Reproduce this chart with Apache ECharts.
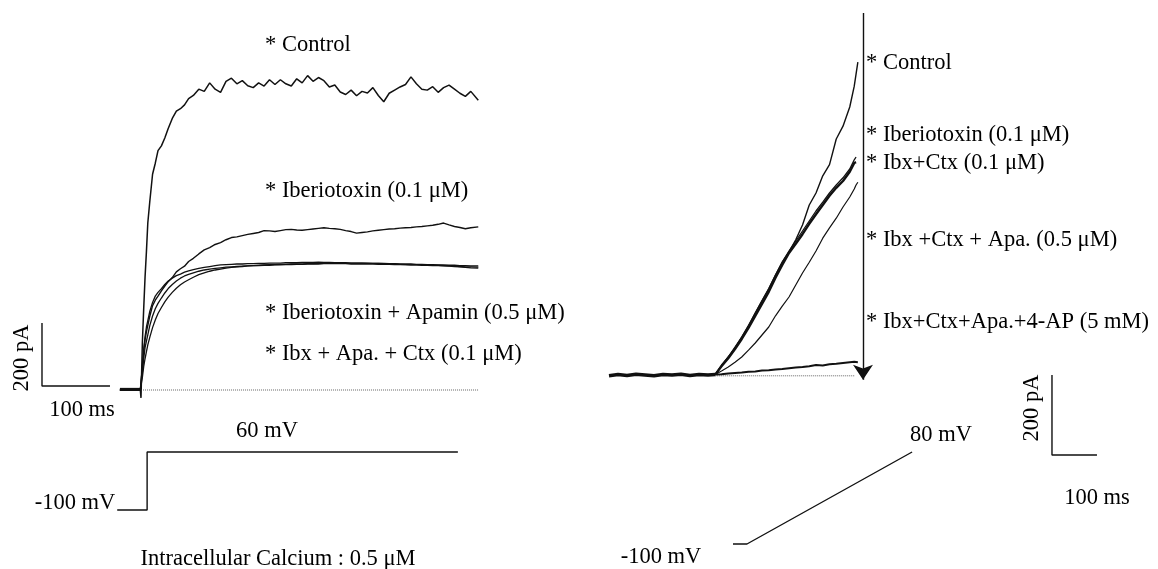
<!DOCTYPE html>
<html>
<head>
<meta charset="utf-8">
<title>K+ currents</title>
<script src="https://cdn.jsdelivr.net/npm/echarts@6/dist/echarts.min.js"></script>
<style>
  html, body { margin: 0; padding: 0; background: #fff; }
  #chart { width: 1158px; height: 569px; }
</style>
</head>
<body>
<div id="chart"></div>
<script>
// ---- left panel: step to 60 mV (time in ms, current in pA) ----
const leftTimes = [-31, -1, 0, 2, 4, 6, 8, 10, 13, 17, 21, 25, 30, 35, 40, 46, 52, 58, 64, 70, 77, 85, 93, 101, 109, 117, 125, 133, 141, 149, 157, 165, 173, 181, 189, 197, 205, 213, 221, 229, 237, 245, 253, 261, 269, 277, 285, 293, 301, 309, 317, 325, 333, 341, 349, 357, 365, 373, 381, 389, 397, 405, 413, 421, 429, 437, 445, 453, 461, 469, 477, 485, 496]
const controlLeft = [0, 0, -25, 150, 260, 360, 440, 530, 600, 685, 720, 760, 775, 800, 830, 862, 885, 893, 905, 925, 935, 955, 948, 975, 955, 945, 980, 990, 972, 982, 966, 960, 975, 965, 985, 970, 985, 972, 965, 988, 975, 998, 980, 992, 982, 962, 968, 946, 938, 952, 934, 948, 943, 960, 935, 915, 942, 952, 962, 970, 994, 972, 955, 952, 963, 945, 960, 968, 955, 942, 932, 948, 920]
const ibxLeft = [0, 0, 0, 70, 125, 160, 185, 205, 235, 268, 285, 298, 315, 330, 344, 357, 375, 385, 393, 408, 418, 432, 445, 452, 462, 468, 477, 484, 486, 490, 494, 497, 500, 506, 505, 503, 506, 509, 510, 508, 507, 509, 511, 513, 515, 513, 512, 510, 506, 503, 498, 500, 502, 505, 507, 509, 511, 512, 514, 515, 516, 518, 519, 521, 523, 526, 530, 524, 519, 516, 512, 515, 518]
const ibxApaLeft = [0, 0, 0, 75, 130, 170, 200, 220, 250, 278, 298, 310, 322, 335, 346, 355, 363, 368, 374, 378, 382, 386, 389, 392, 395, 397, 398, 399, 400, 400, 401, 401, 402, 402, 403, 403, 403, 404, 404, 404, 405, 405, 405, 406, 405, 405, 404, 404, 404, 403, 403, 403, 403, 402, 402, 402, 401, 401, 400, 400, 400, 399, 399, 398, 398, 397, 397, 396, 396, 395, 395, 394, 394]
const ibxApaCtxLeft = [0, 0, 0, 55, 100, 135, 155, 175, 205, 235, 258, 275, 292, 308, 322, 335, 346, 355, 362, 367, 372, 377, 381, 384, 386, 388, 390, 391, 392, 393, 394, 395, 395, 396, 396, 397, 397, 398, 398, 399, 399, 400, 400, 400, 401, 401, 401, 401, 401, 400, 400, 400, 400, 400, 399, 399, 399, 398, 398, 398, 397, 397, 397, 397, 396, 396, 395, 394, 393, 392, 391, 391, 390]
const thirdLeft = [0, 0, 0, 40, 75, 100, 122, 143, 168, 198, 222, 243, 262, 280, 295, 310, 323, 334, 343, 350, 358, 366, 372, 377, 381, 384, 387, 389, 391, 392, 394, 395, 396, 397, 398, 398, 399, 399, 400, 400, 400, 401, 401, 402, 402, 402, 403, 403, 403, 403, 403, 403, 402, 402, 402, 401, 401, 400, 399, 398, 397, 397, 396, 396, 395, 395, 394, 393, 392, 391, 389, 388, 387]
const leftBaseT = [3, 496]
// voltage protocol, left (ms, mV)
const stepT = [-35, 9, 9, 466]
const stepV = [-100, -100, 60, 60]

// ---- right panel: ramp to 80 mV ----
const rightBaseT = [0, 20, 40, 60, 80, 100, 120, 140, 160, 180, 200, 220, 236]
const rightBaseI = [-2, 1, -1, 2, 0, -2, 1, 0, 2, -1, 1, 0, 1]
const rightTimes = [236, 250, 265, 280, 295, 310, 325, 340, 355, 370, 385, 400, 415, 430, 445, 460, 475, 490, 505, 520, 535, 545, 549, 553]
const controlRight = [1, 22, 45, 67, 95, 122, 155, 185, 215, 250, 282, 308, 338, 375, 425, 455, 498, 526, 590, 622, 670, 722, 752, 782]
const ibxRight = [1, 25, 45, 70, 95, 124, 155, 186, 216, 250, 282, 310, 335, 360, 385, 410, 432, 455, 475, 493, 515, 538, 545, null]
const ibxCtxRight = [1, 22, 42, 65, 90, 118, 148, 178, 208, 243, 275, 305, 328, 352, 378, 402, 425, 448, 468, 485, 508, 530, 532, null]
const ibxCtxApaRight = [1, 10, 20, 32, 45, 62, 80, 100, 120, 148, 172, 195, 225, 255, 282, 310, 342, 368, 392, 420, 445, 465, 475, 482]
const fourApRight = [1, 2, 4, 5, 6, 8, 9, 11, 12, 14, 15, 17, 19, 20, 22, 25, 24, 27, 28, 30, 32, 33, 32, 32]
const rightDotT = [236, 547]
const rampT = [0, 31, 398]
const rampV = [-100, -100, 80]

// scale bars
const barMs = 100
const barPa = 200

const pairs = (xs, ys) => xs.map((x, i) => [x, ys[i]])
const black = '#111'
const serif = '22.5px "Liberation Serif", "DejaVu Serif", serif'

function trace (name, xi, xs, ys, width) {
  return {
    name: name,
    type: 'line',
    xAxisIndex: xi,
    yAxisIndex: xi,
    data: pairs(xs, ys),
    showSymbol: false,
    symbol: 'none',
    clip: false,
    silent: true,
    connectNulls: false,
    lineStyle: { color: black, width: width || 1.3 }
  }
}

function label (text, x, y, opts) {
  return Object.assign({
    type: 'text',
    x: x,
    y: y,
    silent: true,
    style: {
      text: text,
      fill: '#000',
      font: serif,
      textAlign: (opts && opts.align) || 'left',
      textVerticalAlign: 'middle'
    }
  }, opts && opts.rot ? { rotation: opts.rot } : {})
}

const chart = echarts.init(document.getElementById('chart'))

const leftBarX = -145.6
const leftBarY = 12.7
const rightBarX = 984.4
const rightBarY = -200

chart.setOption({
  animation: false,
  backgroundColor: '#fff',
  grid: [
    { left: 5, top: 27.75, width: 476, height: 378 },
    { left: 5, top: 444.75, width: 476, height: 72.5 },
    { left: 600, top: 3, width: 558, height: 472 },
    { left: 733, top: 441.78, width: 200, height: 112.44 }
  ],
  xAxis: [
    { type: 'value', gridIndex: 0, min: -200, max: 500, show: false },
    { type: 'value', gridIndex: 1, min: -200, max: 500, show: false },
    { type: 'value', gridIndex: 2, min: -20, max: 1220, show: false },
    { type: 'value', gridIndex: 3, min: 0, max: 444.44, show: false }
  ],
  yAxis: [
    { type: 'value', gridIndex: 0, min: -50, max: 1150, show: false },
    { type: 'value', gridIndex: 1, min: -120, max: 80, show: false },
    { type: 'value', gridIndex: 2, min: -250, max: 930, show: false },
    { type: 'value', gridIndex: 3, min: -120, max: 100, show: false }
  ],
  series: [
    // left currents
    {
      name: 'baseline L',
      type: 'line',
      xAxisIndex: 0,
      yAxisIndex: 0,
      data: pairs(leftBaseT, [0, 0]),
      showSymbol: false,
      clip: false,
      lineStyle: { color: '#666', width: 1, type: 'dotted' }
    },
    trace('holding L', 0, [-31, 0], [2, 2], 3),
    trace('Control', 0, leftTimes, controlLeft, 1.5),
    trace('Iberiotoxin', 0, leftTimes, ibxLeft, 1.4),
    trace('Iberiotoxin + Apamin', 0, leftTimes, ibxApaLeft, 1.3),
    trace('Ibx + Apa. + Ctx', 0, leftTimes, ibxApaCtxLeft, 1.3),
    trace('third', 0, leftTimes, thirdLeft, 1.3),
    trace('bar L', 0, [leftBarX, leftBarX, leftBarX + barMs], [leftBarY + barPa, leftBarY, leftBarY], 1.4),
    // left voltage
    trace('step', 1, stepT, stepV, 1.4),
    // right currents
    {
      name: 'baseline R',
      type: 'line',
      xAxisIndex: 2,
      yAxisIndex: 2,
      data: pairs(rightDotT, [-2, -2]),
      showSymbol: false,
      clip: false,
      lineStyle: { color: '#666', width: 1, type: 'dotted' }
    },
    trace('holding R', 2, rightBaseT, rightBaseI, 3.5),
    trace('Control R', 2, rightTimes, controlRight, 1.4),
    trace('Iberiotoxin R', 2, rightTimes, ibxRight, 1.3),
    trace('Ibx+Ctx R', 2, rightTimes, ibxCtxRight, 2.4),
    trace('Ibx+Ctx+Apa R', 2, rightTimes, ibxCtxApaRight, 1.2),
    trace('4-AP R', 2, rightTimes, fourApRight, 2),
    trace('bar R', 2, [rightBarX, rightBarX, rightBarX + barMs], [rightBarY + barPa, rightBarY, rightBarY], 1.4),
    {
      name: 'arrow',
      type: 'lines',
      coordinateSystem: 'cartesian2d',
      xAxisIndex: 2,
      yAxisIndex: 2,
      symbol: ['none', 'arrow'],
      symbolSize: [11, 15],
      silent: true,
      lineStyle: { color: black, width: 1.4, opacity: 1 },
      data: [{ coords: [[564.4, 905], [564.4, -12]] }]
    },
    // right voltage
    trace('ramp', 3, rampT, rampV, 1.4)
  ],
  graphic: [
    label('* Control', 265, 45),
    label('* Iberiotoxin (0.1 \u03bcM)', 265, 191),
    label('* Iberiotoxin + Apamin (0.5 \u03bcM)', 265, 313),
    label('* Ibx + Apa. + Ctx (0.1 \u03bcM)', 265, 354),
    label('200 pA', 22, 358, { align: 'center', rot: Math.PI / 2 }),
    label('100 ms', 82, 410, { align: 'center' }),
    label('60 mV', 267, 431, { align: 'center' }),
    label('-100 mV', 75, 503, { align: 'center' }),
    label('Intracellular Calcium : 0.5 \u03bcM', 278, 559, { align: 'center' }),
    label('* Control', 866, 63),
    label('* Iberiotoxin (0.1 \u03bcM)', 866, 135),
    label('* Ibx+Ctx (0.1 \u03bcM)', 866, 163),
    label('* Ibx +Ctx + Apa. (0.5 \u03bcM)', 866, 240),
    label('* Ibx+Ctx+Apa.+4-AP (5 mM)', 866, 322),
    label('200 pA', 1032, 408, { align: 'center', rot: Math.PI / 2 }),
    label('100 ms', 1097, 498, { align: 'center' }),
    label('80 mV', 941, 435, { align: 'center' }),
    label('-100 mV', 661, 557, { align: 'center' })
  ]
})
</script>
</body>
</html>
